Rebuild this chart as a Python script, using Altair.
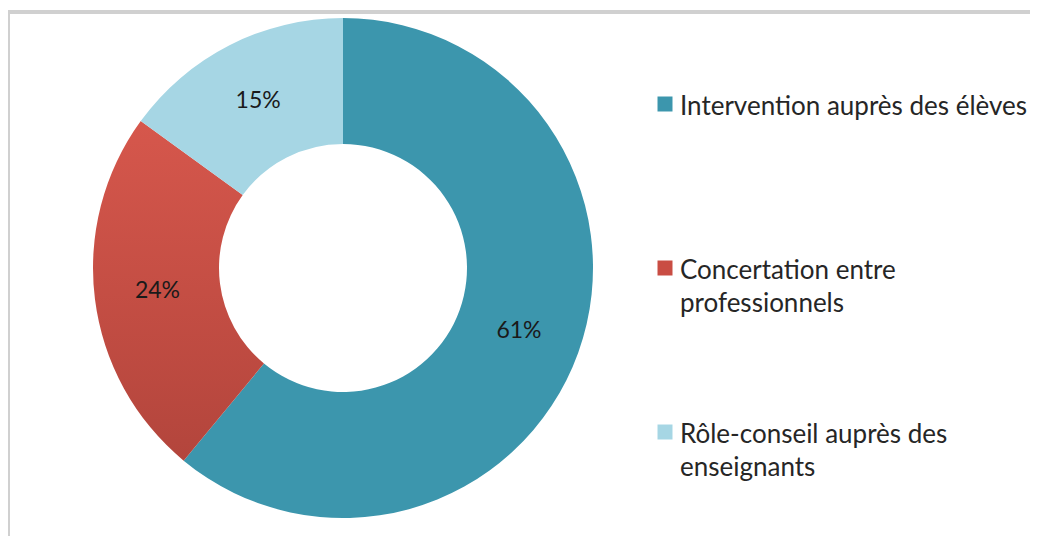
import altair as alt
import pandas as pd

categories = ["Intervention auprès des élèves", "Concertation entre professionnels", "Rôle-conseil auprès des enseignants"]
values = [61, 24, 15]
pct_labels = ["61%", "24%", "15%"]
legend_lines = [["Intervention auprès des élèves"], ["Concertation entre", "professionnels"], ["Rôle-conseil auprès des", "enseignants"]]
colors = ["#3c96ad", "#c94d43", "#a6d6e4"]

df = pd.DataFrame({
    "cat": categories,
    "value": values,
    "pct": pct_labels,
    "idx": list(range(len(categories))),
    "legend": ["\n".join(l) for l in legend_lines],
})

CX, CY = 330, 255
FONT = "Lato"

color_scale = alt.Scale(domain=categories, range=colors)

red_grad = alt.LinearGradient(
    gradient="linear",
    stops=[alt.GradientStop(color="#d6574c", offset=0), alt.GradientStop(color="#b3453c", offset=1)],
    x1=0, x2=0, y1=0, y2=1,
)

base = alt.Chart(df).encode(
    theta=alt.Theta("value:Q", stack=True),
    order=alt.Order("idx:Q"),
    x=alt.value(CX),
    y=alt.value(CY),
)

arcs = base.mark_arc(innerRadius=124, outerRadius=250).encode(
    fill=alt.condition(
        alt.datum.cat == categories[1],
        alt.value(red_grad),
        alt.Color("cat:N", scale=color_scale, legend=None),
    )
)

pct = base.mark_text(radius=187, font=FONT, fontSize=23, color="#1a1a1a").encode(text="pct:N")

leg_base = alt.Chart(df).encode(
    y=alt.Y("idx:O", scale=alt.Scale(domain=[0, 1, 2], range=[91, 419], padding=0), axis=None),
)
leg_sq = leg_base.mark_square(size=225, opacity=1).encode(
    x=alt.value(652),
    color=alt.Color("cat:N", scale=color_scale, legend=None),
)
leg_txt = leg_base.mark_text(
    align="left", baseline="alphabetic", dy=11, lineBreak="\n", lineHeight=33,
    font=FONT, fontSize=26, color="#262626",
).encode(x=alt.value(667), text="legend:N")

frame_df = pd.DataFrame({"a": [0]})
top_line = alt.Chart(frame_df).mark_rule(color="#d0d0d0", strokeWidth=4).encode(
    x=alt.value(-7), x2=alt.value(1020), y=alt.value(-1)
)
left_line = alt.Chart(frame_df).mark_rule(color="#d0d0d0", strokeWidth=4).encode(
    x=alt.value(-5), y=alt.value(-3), y2=alt.value(530)
)

chart = alt.layer(top_line, left_line, arcs, pct, leg_sq, leg_txt).properties(
    width=1012, height=518, padding=5, autosize=alt.AutoSizeParams(type="none"),
).configure_view(stroke=None)

chart.save("out.html", embed_options={"renderer": "svg", "actions": False})
